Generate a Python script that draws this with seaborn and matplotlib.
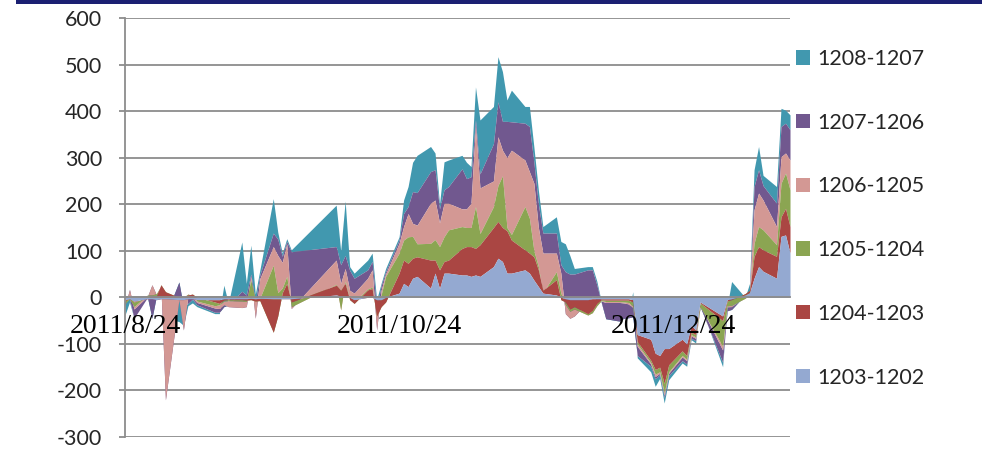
import numpy as np
import pandas as pd
import matplotlib
matplotlib.use("Agg")
import matplotlib.pyplot as plt
from matplotlib.patches import Rectangle
import seaborn as sns

# trading days on the x axis
dates = [
    "2011-08-24", "2011-08-25", "2011-08-26", "2011-08-29", "2011-08-30", "2011-08-31",
    "2011-09-01", "2011-09-02", "2011-09-05", "2011-09-06", "2011-09-07", "2011-09-08",
    "2011-09-09", "2011-09-13", "2011-09-14", "2011-09-15", "2011-09-16", "2011-09-19",
    "2011-09-20", "2011-09-21", "2011-09-22", "2011-09-23", "2011-09-26", "2011-09-27",
    "2011-09-28", "2011-09-29", "2011-09-30", "2011-10-10", "2011-10-11", "2011-10-12",
    "2011-10-13", "2011-10-14", "2011-10-17", "2011-10-18", "2011-10-19", "2011-10-20",
    "2011-10-21", "2011-10-24", "2011-10-25", "2011-10-26", "2011-10-27", "2011-10-28",
    "2011-10-31", "2011-11-01", "2011-11-02", "2011-11-03", "2011-11-04", "2011-11-07",
    "2011-11-08", "2011-11-09", "2011-11-10", "2011-11-11", "2011-11-14", "2011-11-15",
    "2011-11-16", "2011-11-17", "2011-11-18", "2011-11-21", "2011-11-22", "2011-11-23",
    "2011-11-24", "2011-11-25", "2011-11-28", "2011-11-29", "2011-11-30", "2011-12-01",
    "2011-12-02", "2011-12-05", "2011-12-06", "2011-12-07", "2011-12-08", "2011-12-09",
    "2011-12-12", "2011-12-13", "2011-12-14", "2011-12-15", "2011-12-16", "2011-12-19",
    "2011-12-20", "2011-12-21", "2011-12-22", "2011-12-23", "2011-12-26", "2011-12-27",
    "2011-12-28", "2011-12-29", "2011-12-30", "2012-01-04", "2012-01-05", "2012-01-06",
    "2012-01-09", "2012-01-10", "2012-01-11", "2012-01-12", "2012-01-13", "2012-01-16",
    "2012-01-17", "2012-01-18", "2012-01-19",
]

# spreads, one list per series (stacked in this order)
s1203_1202 = [
    -5, -3, -8, -3, -3, -5, -3, -3, -5, -5, -3, -3, -5, -5, -5, -3, -3, -3, -3, -2,
    -3, -2, -3, -3, -3, -3, -3, 5, 3, 3, 0, -5, 0, 0, -5, -5, 0, 9, 30, 23,
    41, 45, 20, 52, 19, 52, 52, 48, 48, 45, 48, 45, 66, 84, 77, 52, 52, 59, 52, 37,
    23, 9, 5, 0, -3, -5, -5, -5, -3, -3, -3, -3, -3, -3, -3, -5, -80, -90, -120, -125,
    -110, -110, -90, -100, -60, -70, -10, -40, -5, -3, 5, 10, 41, 66, 56, 41, 131, 134, 95,
]
s1204_1203 = [
    -3, 2, -2, 3, 5, 8, 30, 15, 5, 5, 8, 10, 5, -5, -8, -3, -2, -2, -3, -3,
    -5, -5, -72, -37, 13, 33, -7, 21, 12, 27, -5, -8, 16, 19, -35, -15, -10, 43, 50, 50,
    43, 42, 60, 28, 40, 25, 28, 57, 61, 64, 57, 68, 84, 79, 73, 91, 71, 43, 43, 50,
    36, 6, 33, -5, -7, -20, -15, -30, -25, -10, -2, -3, -3, -3, -3, -5, -15, -45, -35, -25,
    -75, -35, -25, -25, -15, -10, -2, -10, -3, -2, 3, 5, 47, 43, 46, 47, 42, 57, 57,
]
s1205_1204 = [
    -5, -2, -10, 5, 3, 5, -2, -5, 0, 0, 2, -3, -8, -8, -3, -2, -2, -3, -3, 42,
    3, 5, 144, 50, 10, 15, -10, 2, -42, 5, 2, 3, 2, 3, 5, 25, 55, 43, 43, 57,
    47, 28, 36, 44, 50, 53, 65, 47, 41, 41, 90, 24, 45, 77, 111, 7, 12, 93, 75, 13,
    7, -5, 17, 14, -5, -5, -5, -3, -5, -5, -2, -3, -3, -4, -5, -8, -5, -5, -10, -10,
    -20, -15, -10, -8, -5, -5, -8, -55, -10, -12, -10, -10, 28, 43, 43, 25, 72, 76, 79,
]
s1206_1205 = [
    -5, 20, -5, -3, 22, -3, -5, -227, -5, -70, -5, -5, -3, -5, -8, -8, -13, -14, -11, 8,
    -40, 42, 40, 80, 55, 70, -4, 52, 57, 27, 18, 19, 23, 37, -35, 10, 5, 21, 29, 50,
    28, 40, 86, 85, 51, 72, 57, 38, 40, 52, 172, 98, 55, 105, 55, 150, 181, 100, 100, 145,
    84, 85, 40, 43, -20, -15, -15, 28, 35, 10, -1, -2, -2, -2, -3, -4, -5, -3, -5, -3,
    -5, -3, -3, -3, -3, -3, 3, -8, -3, -3, 2, 5, 72, 72, 64, 39, 57, 43, 64,
]
s1207_1206 = [
    10, -20, -20, -2, -72, -2, -5, 180, 38, 50, -15, -3, -5, -9, -8, -4, 3, 35, 25, 5,
    35, 8, 29, 35, 13, 5, 122, 29, 40, 28, 43, 32, 18, 18, 45, 10, 5, 7, 28, 15,
    68, 70, 68, 65, 30, 29, 36, 86, 65, 57, 14, 30, 80, 75, 62, 78, 61, 79, 97, 45,
    50, 43, 43, 18, 90, 95, 90, 69, 57, 35, -3, -35, -40, -33, -30, -20, -20, -5, -5, -3,
    -5, -5, -8, -7, -5, -5, -3, -26, -8, -6, 5, 5, 50, 50, 31, 50, 65, 64, 65,
]
s1208_1207 = [
    -30, -7, 0, 0, 25, 5, -10, -5, -85, -40, -5, -8, -4, -3, -3, 46, 4, 106, 25, 62,
    17, 10, 74, 15, 7, 6, 4, 89, 30, 117, 8, 11, 21, 18, 20, 5, 7, 7, 29, 43,
    63, 80, 54, 36, 10, 60, 57, 29, 35, 22, 71, 116, 80, 97, 107, 46, 68, 36, 43, 33,
    30, 14, 35, 50, 60, 40, 12, 7, 7, 8, 2, 5, 3, 3, 4, 54, -5, -12, -16, -8,
    -12, -9, -5, -5, -3, -5, 5, -10, 9, 60, -5, 15, 36, 50, 22, 36, 39, 28, 32,
]

labels = ["1203-1202", "1204-1203", "1205-1204", "1206-1205", "1207-1206", "1208-1207"]
colors = ["#94a9d1", "#aa4643", "#8ba552", "#d39894", "#71588f", "#4198af"]

tick_dates = ["2011-08-24", "2011-10-24", "2011-12-24"]
tick_labels = ["2011/8/24", "2011/10/24", "2011/12/24"]

sns.set_theme(style="white")
plt.rcParams["font.family"] = ["Lato", "DejaVu Sans"]
plt.rcParams["axes.unicode_minus"] = False

df = pd.DataFrame(
    dict(zip(labels, [s1203_1202, s1204_1203, s1205_1204,
                      s1206_1205, s1207_1206, s1208_1207])),
    index=pd.to_datetime(dates),
)
cum = df.cumsum(axis=1)

fig = plt.figure(figsize=(9.82, 4.55), dpi=100)
ax = fig.add_axes([125 / 982, 1 - 437 / 455, 665 / 982, 419 / 455])

# stacked bands, last series drawn first so the lower ones sit on top
x = df.index
for i in reversed(range(len(labels))):
    lower = cum.iloc[:, i - 1] if i > 0 else np.zeros(len(x))
    ax.fill_between(x, lower, cum.iloc[:, i], color=colors[i], lw=0,
                    label=labels[i])

grid_c = "#8c8c8c"
ax.set_xlim(pd.Timestamp("2011-08-24"), pd.Timestamp("2012-01-19"))
ax.set_ylim(-300, 600)
ax.set_yticks(range(-300, 601, 100))
ax.yaxis.grid(True, color=grid_c, lw=1.3)
ax.xaxis.grid(False)
ax.set_axisbelow(True)
# date labels sit over the areas, like the original
ax.xaxis.set_zorder(4)

for side in ["top", "right"]:
    ax.spines[side].set_visible(False)
ax.spines["left"].set_color(grid_c)
ax.spines["left"].set_linewidth(1.3)
ax.spines["bottom"].set_position(("data", 0))
ax.spines["bottom"].set_color(grid_c)
ax.spines["bottom"].set_linewidth(1.3)
ax.spines["bottom"].set_zorder(3)

ax.set_xticks(pd.to_datetime(tick_dates))
ax.set_xticklabels(tick_labels, family="Liberation Serif", fontsize=20)
ax.tick_params(axis="x", direction="out", length=4, width=1.3, color=grid_c,
               pad=8, labelcolor="black")
ax.tick_params(axis="y", left=True, direction="out", length=4.5, width=1.3,
               color=grid_c, pad=12, labelsize=15.5)
ax.set_xlabel("")
ax.set_ylabel("")

handles, hl = ax.get_legend_handles_labels()
fig.legend(handles, hl, loc="upper left", bbox_to_anchor=(796 / 982, 1 - 49 / 455),
           frameon=False, fontsize=15.5, handlelength=0.65, handleheight=0.65,
           handletextpad=0.35, labelspacing=2.03, borderpad=0, borderaxespad=0)

# dark rule across the top of the page
fig.add_artist(Rectangle((16 / 982, 1 - 4 / 455), 1, 4 / 455,
                         transform=fig.transFigure, color="#1b1f72", lw=0))

fig.savefig("out.png", dpi=100)
